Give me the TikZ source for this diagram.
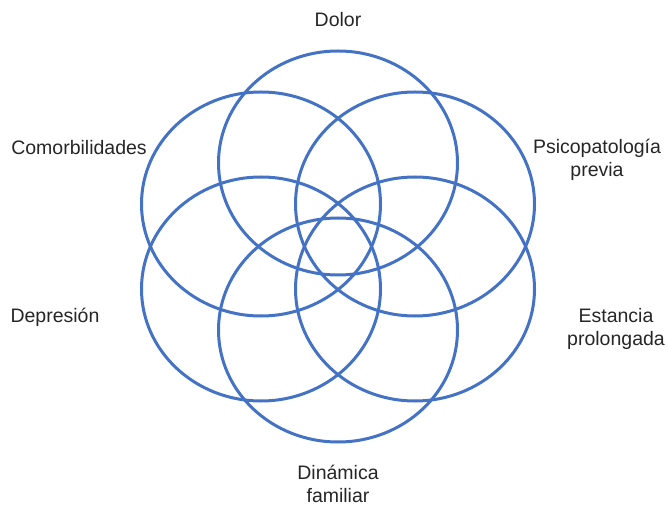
\documentclass[tikz,border=0pt]{standalone}
\usepackage{fontspec}
\setmainfont{Liberation Sans}
\usepackage{tikz}
\usetikzlibrary{shapes.geometric,positioning}
\definecolor{Petal}{HTML}{4472C4}
\definecolor{Ink}{HTML}{262626}
\tikzset{
  petal/.style={ellipse, draw=Petal, line width=3pt, minimum width=239pt,
                minimum height=224pt, inner sep=0pt},
  tag/.style={text=Ink, align=center, inner sep=0pt,
              font=\fontsize{19.5}{23.5}\selectfont},
}
\begin{document}
\begin{tikzpicture}[x=1pt, y=1pt]
  \useasboundingbox (0,0) rectangle (668,506);
  \node[petal] (dolor) at (338,343) {};
  \node[petal] (comor) at (261,302) {};
  \node[petal] (depre) at (261,217) {};
  \node[petal] (dinam) at (338,176) {};
  \node[petal] (estan) at (415,217) {};
  \node[petal] (psico) at (415,302) {};
  \node[tag] (tdolor) at (338,486) {Dolor};
  \node[tag] (tcomor) at (79,358) {Comorbilidades};
  \node[tag] (tpsico) at (597,346) {Psicopatología\\previa};
  \node[tag] (tdepre) at (55,189) {Depresión};
  \node[tag] (testan) at (616,177) {Estancia\\prolongada};
  \node[tag] (tdinam) at (338,22) {Dinámica\\familiar};
\end{tikzpicture}
\end{document}
